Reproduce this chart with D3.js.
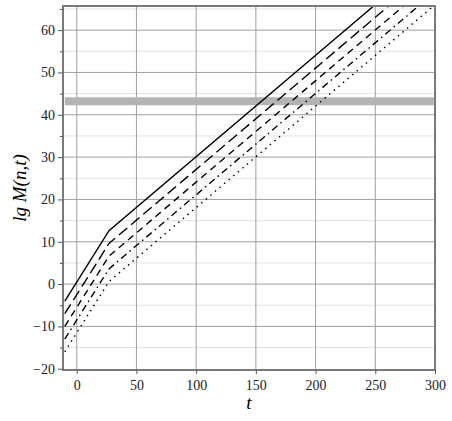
<!DOCTYPE html>
<html>
<head>
<meta charset="utf-8">
<script src="https://cdn.jsdelivr.net/npm/d3@7"></script>
<style>
  body { margin: 0; background: #fff; }
  svg { display: block; }
  .tick text { font-family: "Liberation Serif", "DejaVu Serif", serif; font-size: 14px; fill: #222; }
</style>
</head>
<body>
<svg id="chart" width="452" height="421"></svg>
<script>
// chart values
var tBreaks = [-10, 27, 300];
var seriesSolid    = [-4, 12.6, 78.0];
var seriesLongDash = [-7, 9.6, 75.0];
var seriesDash     = [-10, 6.6, 72.0];
var seriesDashDot  = [-13, 3.6, 69.0];
var seriesDot      = [-16, 0.6, 66.0];
var bandLevel = 43.2;
var bandRange = [-10, 299];
var xTicks = [0, 50, 100, 150, 200, 250, 300];
var yTicks = [-20, -10, 0, 10, 20, 30, 40, 50, 60];
var yMinor = [-15, -5, 5, 15, 25, 35, 45, 55, 65];

var margin = {top: 6, right: 17, bottom: 51, left: 63};
var width = 452 - margin.left - margin.right;
var height = 421 - margin.top - margin.bottom;

var svg = d3.select('#chart');
var g = svg.append('g')
  .attr('transform', 'translate(' + margin.left + ',' + margin.top + ')');

var xScale = d3.scaleLinear().domain([-11.5, 300]).range([0, width]);
var yScale = d3.scaleLinear().domain([-20.3, 65.7]).range([height, 0]);

g.append('clipPath').attr('id', 'clip')
  .append('rect').attr('width', width).attr('height', height);

// minor horizontal grid
g.selectAll('line.minor')
  .data(yMinor.filter(function(v) { return v < 65.7; }))
  .enter().append('line')
  .attr('class', 'minor')
  .attr('x1', 0).attr('x2', width)
  .attr('y1', function(d) { return yScale(d); })
  .attr('y2', function(d) { return yScale(d); })
  .attr('stroke', '#e2e2e2');

// major grid
g.selectAll('line.hgrid')
  .data(yTicks.filter(function(v) { return v > -20; }))
  .enter().append('line')
  .attr('class', 'hgrid')
  .attr('x1', 0).attr('x2', width)
  .attr('y1', function(d) { return yScale(d); })
  .attr('y2', function(d) { return yScale(d); })
  .attr('stroke', '#a0a0a0');
g.selectAll('line.vgrid')
  .data(xTicks.filter(function(v) { return v < 300; }))
  .enter().append('line')
  .attr('class', 'vgrid')
  .attr('y1', 0).attr('y2', height)
  .attr('x1', function(d) { return xScale(d); })
  .attr('x2', function(d) { return xScale(d); })
  .attr('stroke', '#a0a0a0');

// gray band
g.append('line')
  .attr('x1', xScale(bandRange[0])).attr('x2', xScale(bandRange[1]))
  .attr('y1', yScale(bandLevel)).attr('y2', yScale(bandLevel))
  .attr('stroke', '#b3b3b3')
  .attr('stroke-width', 8);

// curves
var line = d3.line()
  .x(function(d) { return xScale(d[0]); })
  .y(function(d) { return yScale(d[1]); });

var curves = [
  {vals: seriesSolid, dash: null},
  {vals: seriesLongDash, dash: '11,5'},
  {vals: seriesDash, dash: '7,5'},
  {vals: seriesDashDot, dash: '7,4,1.5,4'},
  {vals: seriesDot, dash: '1.5,4.5'}
];
curves.forEach(function(c) {
  g.append('path')
    .datum(tBreaks.map(function(t, i) { return [t, c.vals[i]]; }))
    .attr('d', line)
    .attr('clip-path', 'url(#clip)')
    .attr('fill', 'none')
    .attr('stroke', '#000')
    .attr('stroke-width', 1.4)
    .attr('stroke-dasharray', c.dash);
});

// frame
g.append('rect')
  .attr('width', width).attr('height', height)
  .attr('fill', 'none')
  .attr('stroke', '#7a7a7a')
  .attr('stroke-width', 2);

// axes
var yAxis = d3.axisLeft(yScale).tickValues(yTicks).tickSize(5).tickPadding(3)
  .tickFormat(function(d) { return d < 0 ? '\u2212' + Math.abs(d) : d; });
var yAxisMinor = d3.axisLeft(yScale).tickValues(yMinor.filter(function(v) { return v < 65.7; }))
  .tickSize(3).tickFormat('');
var xAxis = d3.axisBottom(xScale).tickValues(xTicks).tickSize(4).tickPadding(6);

[g.append('g').call(yAxis), g.append('g').call(yAxisMinor),
 g.append('g').attr('transform', 'translate(0,' + height + ')').call(xAxis)]
  .forEach(function(a) {
    a.select('.domain').remove();
    a.selectAll('.tick line').attr('stroke', '#555');
  });

// axis titles
svg.append('text')
  .attr('x', 249)
  .attr('y', 409)
  .attr('text-anchor', 'middle')
  .attr('font-family', '"Liberation Serif", serif')
  .attr('font-style', 'italic')
  .attr('font-size', 19)
  .text('t');

svg.append('text')
  .attr('transform', 'translate(26,188) rotate(-90)')
  .attr('text-anchor', 'middle')
  .attr('font-family', '"Liberation Serif", serif')
  .attr('font-style', 'italic')
  .attr('font-size', 19)
  .text('lg M(n,t)');
</script>
</body>
</html>
